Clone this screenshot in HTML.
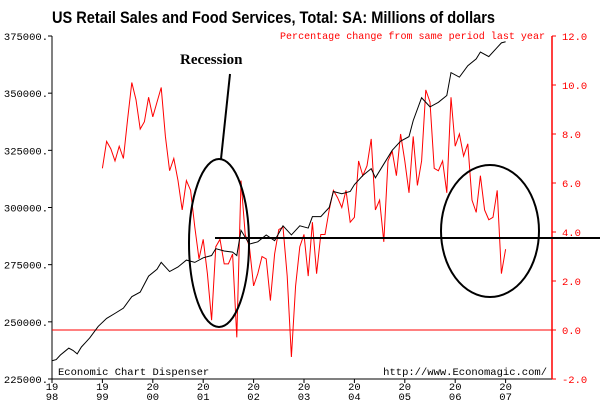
<!DOCTYPE html>
<html><head><meta charset="utf-8"><style>
html,body{margin:0;padding:0;background:#fff;}
svg{display:block;}
</style></head><body>
<svg id="chart" width="600" height="400" viewBox="0 0 600 400" xmlns="http://www.w3.org/2000/svg">
<text x="52" y="23" font-family="Liberation Sans, sans-serif" font-weight="bold" font-size="17" textLength="443" lengthAdjust="spacingAndGlyphs">US Retail Sales and Food Services, Total: SA: Millions of dollars</text>
<text x="545" y="39" text-anchor="end" fill="#f00" font-family="Liberation Mono, monospace" font-size="10.5" textLength="265" lengthAdjust="spacingAndGlyphs">Percentage change from same period last year</text>
<g id="axes"></g>
<g id="series"></g>
<g id="annot"></g>
</svg>
<script>
const leftTicks=[225000,250000,275000,300000,325000,350000,375000];
const rightTicks=[-2,0,2,4,6,8,10,12];
const yearLabels=["1998","1999","2000","2001","2002","2003","2004","2005","2006","2007"];
const salesMonths=[0,1,2,3,4,5,6,7,8,9,11,13,15,17,19,21,23,25,26,28,30,32,34,36,38,39,41,43,44,45,47,49,51,53,55,57,59,61,62,64,66,67,69,71,72,74,76,77,79,81,83,85,86,88,90,92,94,95,97,99,101,102,104,106,107,108];
const salesValues=[233000,233500,235500,237000,238500,237500,236000,239000,241000,243000,248000,251500,253700,256000,261000,263000,270000,273000,276000,272000,274000,277000,276000,278000,279000,282000,281000,280500,279000,290000,284000,285000,288000,285500,292000,288000,292000,291000,296000,296000,300000,307000,306000,307000,310000,314000,317000,313000,319000,325000,329000,331000,338000,348000,344000,346000,349000,359000,357000,362000,365000,368000,366000,370000,372000,372500];
const pctStartMonth=12;
const pctValues=[6.6,7.7,7.4,6.9,7.5,7.0,8.6,10.1,9.4,8.2,8.5,9.5,8.7,9.3,9.9,7.9,6.5,7.0,6.1,4.9,6.1,5.7,4.2,2.9,3.7,2.3,0.4,3.4,3.7,2.7,2.7,3.1,-0.3,6.1,3.9,3.4,1.8,2.3,3.0,2.9,1.2,3.1,4.1,4.2,2.2,-1.1,1.8,3.4,3.9,2.2,4.4,2.3,3.9,3.9,4.9,5.7,5.4,5.0,5.7,4.4,4.6,6.9,6.3,6.7,7.8,4.9,5.3,3.6,6.9,7.3,6.3,8.0,6.9,5.6,7.9,5.9,6.9,9.8,9.3,6.6,6.5,6.9,5.6,9.5,7.5,8.0,7.1,7.6,5.3,4.8,6.3,4.9,4.5,4.6,5.7,2.3,3.3];

const NS="http://www.w3.org/2000/svg";
const X0=52,X1=552,Y0=36,Y1=379;
const xM=m=>X0+m*(50.4/12);
const yL=v=>Y1-(v-225000)/150000*(Y1-Y0);
const yR=v=>Y1-(v+2)/14*(Y1-Y0);
function mk(tag,attrs,parent,txt){const e=document.createElementNS(NS,tag);for(const k in attrs)e.setAttribute(k,attrs[k]);if(txt!==undefined)e.textContent=txt;parent.appendChild(e);return e;}
const axes=document.getElementById('axes'),series=document.getElementById('series'),annot=document.getElementById('annot');

let e;
e=mk('line',{x1:X0,y1:Y0,x2:X0,y2:Y1,stroke:'#000','stroke-width':1},axes);


e=mk('line',{x1:X0,y1:Y1,x2:X1,y2:Y1,stroke:'#000','stroke-width':1},axes);


e=mk('line',{x1:X1,y1:Y0,x2:X1,y2:Y1,stroke:'#f00','stroke-width':1.5},axes);


e=mk('line',{x1:X0,y1:yR(0),x2:X1,y2:yR(0),stroke:'#f00','stroke-width':1},axes);



leftTicks.forEach(v=>{const y=yL(v);
 mk('line',{x1:X0-4,y1:y,x2:X0,y2:y,stroke:'#000'},axes);
 e=mk('text',{x:X0-4,y:y+4,'text-anchor':'end','font-family':'Liberation Mono, monospace','font-size':10.5},axes,v+'.');
 
 
});
rightTicks.forEach(v=>{const y=yR(v);
 mk('line',{x1:X1,y1:y,x2:X1+4,y2:y,stroke:'#f00'},axes);
 e=mk('text',{x:X1+10,y:y+4,fill:'#f00','font-family':'Liberation Mono, monospace','font-size':10.5},axes,v.toFixed(1));
 
 
});
yearLabels.forEach((yr,i)=>{const x=xM(i*12);
 mk('line',{x1:x,y1:Y1,x2:x,y2:Y1+4,stroke:'#000'},axes);
 e=mk('text',{x:x,y:Y1+11,'text-anchor':'middle','font-family':'Liberation Mono, monospace','font-size':10.5},axes,yr.slice(0,2));
 
 
 e=mk('text',{x:x,y:Y1+21,'text-anchor':'middle','font-family':'Liberation Mono, monospace','font-size':10.5},axes,yr.slice(2));
 
 
});

e=mk('polyline',{points:pctValues.map((v,i)=>xM(pctStartMonth+i)+','+yR(v)).join(' '),fill:'none',stroke:'#f00','stroke-width':1},series);


e=mk('polyline',{points:salesValues.map((v,i)=>xM(salesMonths[i])+','+yL(v)).join(' '),fill:'none',stroke:'#000','stroke-width':1},series);



e=mk('text',{x:58,y:375,'font-family':'Liberation Mono, monospace','font-size':10.5},annot,'Economic Chart Dispenser');


e=mk('text',{x:547,y:375,'text-anchor':'end','font-family':'Liberation Mono, monospace','font-size':10.5},annot,'http://www.Economagic.com/');


e=mk('text',{x:180,y:64,'font-family':'Liberation Serif, serif','font-weight':'bold','font-size':15},annot,'Recession');


e=mk('line',{x1:230,y1:74,x2:221,y2:159,stroke:'#000','stroke-width':2},annot);


e=mk('ellipse',{cx:219,cy:243,rx:30,ry:84,fill:'none',stroke:'#000','stroke-width':2},annot);


e=mk('line',{x1:215,y1:238,x2:600,y2:238,stroke:'#000','stroke-width':2},annot);


e=mk('ellipse',{cx:490,cy:231,rx:49,ry:66,fill:'none',stroke:'#000','stroke-width':2},annot);


</script>
</body></html>
